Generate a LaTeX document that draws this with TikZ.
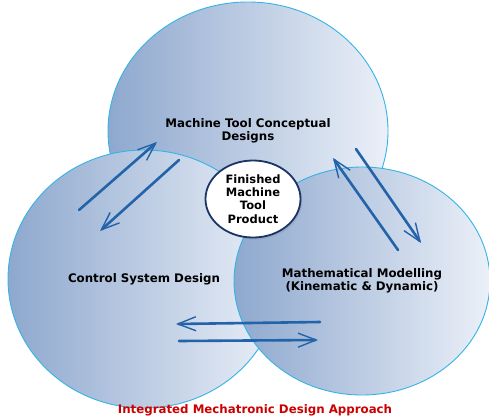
\documentclass[tikz,border=0pt]{standalone}
\usepackage{fontspec}
\setmainfont{DejaVu Sans}
\usetikzlibrary{shapes.geometric}
\usetikzlibrary{arrows.meta}
\usetikzlibrary{shadows}

\definecolor{rimblue}{HTML}{35B3E6}
\definecolor{darkshade}{HTML}{8EA8CE}
\definecolor{lightshade}{HTML}{EBF0F8}
\definecolor{arrowblue}{HTML}{2363A9}
\definecolor{hubrim}{HTML}{1B3566}
\definecolor{titlered}{HTML}{CC0000}

\tikzset{
  bubble/.style={ellipse, draw=rimblue, line width=0.9pt, left color=darkshade, right color=lightshade,
    inner sep=0pt, align=center, font=\fontsize{11.8}{13.5}\selectfont\bfseries},
  hub/.style={ellipse, draw=hubrim, line width=1.8pt, fill=white, inner sep=0pt, align=center,
    minimum width=95pt, minimum height=77pt, font=\fontsize{11.5}{13.2}\selectfont\bfseries,
    drop shadow={opacity=0.2, shadow xshift=2pt, shadow yshift=-2pt}},
  flow/.style={arrowblue, line width=2.6pt, line cap=round,
    -{Straight Barb[length=18pt,width=14pt,line width=1.4pt]}},
}

\begin{document}
\begin{tikzpicture}[x=1pt,y=-1pt]
\useasboundingbox (0,0) rectangle (489,418);

\node[bubble, minimum width=280pt, minimum height=258pt] (concept) at (248,131) {Machine Tool Conceptual\\Designs};
\node[bubble, minimum width=272pt, minimum height=258pt] (control) at (144,279) {Control System Design};
\node[bubble, minimum width=256pt, minimum height=228pt] (model) at (362,281) {Mathematical Modelling\\(Kinematic \& Dynamic)};

\node[hub] (product) at (253,199) {Finished\\Machine\\Tool\\Product};

% arrow ends
\coordinate (A1) at (79,210);
\coordinate (A2) at (157,142);
\coordinate (B1) at (179,160);
\coordinate (B2) at (100,231);
\coordinate (C1) at (398,250);
\coordinate (C2) at (333,158);
\coordinate (D1) at (356,149);
\coordinate (D2) at (421,243);
\coordinate (E1) at (320,322);
\coordinate (E2) at (176,324);
\coordinate (F1) at (179,341);
\coordinate (F2) at (318,340);

\draw[flow] (A1) -- (A2);
\draw[flow] (B1) -- (B2);
\draw[flow] (C1) -- (C2);
\draw[flow] (D1) -- (D2);
\draw[flow] (E1) -- (E2);
\draw[flow] (F1) -- (F2);

\node[text=titlered, font=\fontsize{11.8}{13.5}\selectfont\bfseries] (caption) at (255,410) {Integrated Mechatronic Design Approach};

\end{tikzpicture}
\end{document}
